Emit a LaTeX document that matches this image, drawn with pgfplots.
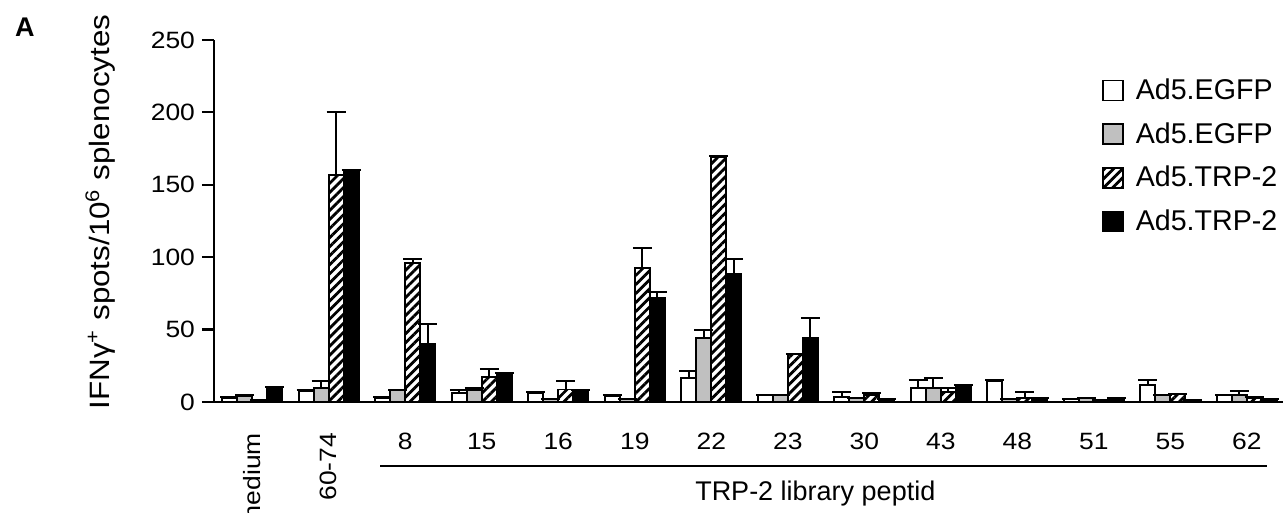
\documentclass[border=0pt]{standalone}
\usepackage{fontspec}
\setmainfont{Liberation Sans}
\newfontfamily\widesans{Liberation Sans}[FakeStretch=1.12]
\newfontfamily\widersans{Liberation Sans}[FakeStretch=1.12]
\usepackage{pgfplots}
\pgfplotsset{compat=1.18}
\usetikzlibrary{patterns.meta}

\definecolor{barfill}{RGB}{192,192,192}

\begin{document}
\begin{tikzpicture}
\begin{axis}[
  scale only axis, width=535.5pt, height=181pt,
  ybar=0pt, bar width=7.5pt,
  xmin=-0.5, xmax=13.5, ymin=0, ymax=250,
  ytick={0,50,...,250},
  xtick={0,...,13},
  xticklabels={\rotatebox{90}{medium},\rotatebox{90}{60-74},8,15,16,19,22,23,30,43,48,51,55,62},
  minor xtick={-0.5,0.5,...,13.5},
  axis x line*=bottom, axis y line*=left,
  axis line style={line width=1.1pt,-},
  tick align=outside,
  major tick length=6pt, minor tick length=4.5pt,
  xtick style={draw=none},
  minor tick style={line width=1.1pt,black},
  ytick style={line width=1.1pt,black},
  tick label style={font=\widesans\fontsize{11.8}{14}\selectfont},
  xticklabel style={yshift=-6pt},
  /pgf/number format/assume math mode=true,
  ylabel={IFNγ\textsuperscript{+} spots/10\textsuperscript{6} splenocytes},
  ylabel style={font=\widersans\fontsize{14}{16}\selectfont, at={(axis description cs:-0.106,0.525)}, anchor=center},
  clip=false,
  legend style={at={(rel axis cs:0.829,0.9)}, anchor=north west, draw=none, fill=none,
    font=\fontsize{14.3}{16}\selectfont, row sep=8pt, inner sep=0pt,
    nodes={inner sep=1pt},
    /tikz/every odd column/.append style={column sep=5pt}},
  legend cell align=left,
  legend image code/.code={\draw[#1,line width=0.8pt] (0pt,-5pt) rectangle (10pt,5pt);},
  error bars/y dir=plus, error bars/y explicit,
  error bars/error bar style={line width=1pt,black},
  error bars/error mark options={line width=1pt,mark size=4.75pt,black,rotate=90},
]
\addplot[draw=black, line width=0.9pt, fill=white] coordinates {
  (0,2.5) +- (0,1) (1,7.8) +- (0,0.3) (2,3) +- (0,0.3) (3,6) +- (0,2.3)
  (4,6) +- (0,1) (5,4) +- (0,0.5) (6,16.8) +- (0,4.6) (7,4.8) +- (0,0.2)
  (8,3.7) +- (0,3.4) (9,9.4) +- (0,5.8) (10,14.7) +- (0,0.2) (11,1.8) +- (0,0.2)
  (12,11.7) +- (0,3.5) (13,4.8) +- (0,0.2)};
\addplot[draw=black, line width=0.9pt, fill=barfill] coordinates {
  (0,4) +- (0,1) (1,9.4) +- (0,5.3) (2,8.3) +- (0,0.2) (3,8.3) +- (0,1.6)
  (4,2) +- (0,0.2) (5,2) +- (0,0.2) (6,44) +- (0,5.7) (7,4.8) +- (0,0.2)
  (8,2.5) +- (0,0.2) (9,9.4) +- (0,7.4) (10,2) +- (0,0.2) (11,2.5) +- (0,0.2)
  (12,4.8) +- (0,0.2) (13,4.8) +- (0,2.8)};
\addplot[draw=black, line width=0.9pt, pattern={Lines[angle=45,distance=3.2pt,line width=1.4pt]}, pattern color=black] coordinates {
  (0,1) +- (0,0.2) (1,156.5) +- (0,44) (2,95.8) +- (0,3) (3,17) +- (0,5.8)
  (4,8.7) +- (0,6) (5,92.3) +- (0,14.3) (6,169) +- (0,1) (7,32.9) +- (0,0.3)
  (8,5) +- (0,1.5) (9,7.1) +- (0,2.3) (10,3) +- (0,4) (11,1.5) +- (0,0.2)
  (12,5.3) +- (0,0.2) (13,3) +- (0,0.2)};
\addplot[draw=black, line width=0.9pt, fill=black] coordinates {
  (0,10) +- (0,0.2) (1,160) +- (0,0.2) (2,39.8) +- (0,14) (3,19.8) +- (0,0.2)
  (4,8.3) +- (0,0.2) (5,71.6) +- (0,4.6) (6,88.2) +- (0,10.6) (7,44) +- (0,14.3)
  (8,2) +- (0,0.2) (9,11.7) +- (0,0.2) (10,2.5) +- (0,0.2) (11,2.8) +- (0,0.2)
  (12,1.5) +- (0,0.2) (13,2) +- (0,0.2)};
\legend{Ad5.EGFP, Ad5.EGFP, Ad5.TRP-2, Ad5.TRP-2}
\draw[line width=1.3pt] ([yshift=-32pt]axis cs:1.67,0) -- ([yshift=-32pt]axis cs:13.26,0);
\node[font=\fontsize{13.5}{15}\selectfont] at ([yshift=-46pt]axis cs:7.36,0) {TRP-2 library peptid};
\node[font=\fontsize{13.5}{15}\selectfont\bfseries] at (axis description cs:-0.1765,1.035) {A};
\end{axis}
\pgfresetboundingbox
\useasboundingbox (-107pt,-55.5pt) rectangle (534.5pt,201pt);
\end{tikzpicture}
\end{document}
